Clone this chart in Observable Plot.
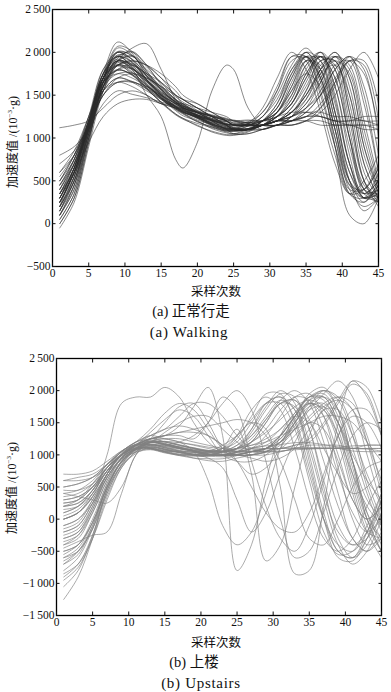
<!DOCTYPE html>
<html><head><meta charset="utf-8">
<script src="https://cdn.jsdelivr.net/npm/d3@7"></script>
<script src="https://cdn.jsdelivr.net/npm/@observablehq/plot@0.6"></script>
<style>
body{margin:0;background:#fff;}
#wrap{position:relative;width:391px;height:692px;overflow:hidden;background:#fff;font-family:"Liberation Serif","Noto Sans CJK SC",serif;color:#111;}
#wrap svg{position:absolute;left:0;}
.cap{position:absolute;white-space:nowrap;transform:translate(-50%,-50%);line-height:1;}
.ylab{position:absolute;white-space:nowrap;transform:translate(-50%,-50%) rotate(-90deg);font-size:12px;line-height:1;}
.ylab sup{font-size:7px;}
</style></head><body><div id="wrap"></div>
<script>
// ---- data ----
const xTicks = [0, 5, 10, 15, 20, 25, 30, 35, 40, 45];
const walkYTicks = [-500, 0, 500, 1000, 1500, 2000, 2500];
const upYTicks = [-1500, -1000, -500, 0, 500, 1000, 1500, 2000, 2500];

// sample positions (采样次数) for walking curves
const walkX = [1,3,5,7,9,11,13,15,17,18,20,22,24,25,27,29,31,33,35,37,39,41,43,45];
const walkCurves = [
 [200,650,1200,1750,1950,1850,1680,1520,1390,1330,1240,1170,1120,1100,1090,1200,1400,1800,1950,1700,1100,500,350,500],
 [350,700,1200,1700,1880,1820,1640,1470,1360,1320,1270,1220,1160,1150,1170,1250,1550,1950,1950,1500,900,400,400,650],
 [100,450,1050,1650,2050,1970,1750,1560,1400,1340,1230,1150,1090,1080,1100,1150,1250,1450,1800,2000,1600,900,400,350],
 [450,750,1200,1650,1800,1730,1580,1420,1280,1230,1170,1120,1070,1050,1080,1150,1200,1300,1500,1800,2000,1600,800,350],
 [0,300,950,1600,1930,2010,1850,1620,1450,1390,1290,1220,1170,1160,1180,1200,1300,1600,1950,1900,1400,700,350,400],
 [250,600,1150,1750,2120,1990,1720,1510,1370,1310,1240,1160,1110,1110,1170,1350,1700,2000,1800,1300,700,350,500,800],
 [550,800,1150,1550,1700,1660,1580,1490,1400,1350,1290,1230,1190,1180,1180,1150,1200,1200,1250,1250,1200,1200,1200,1150],
 [150,550,1150,1750,1900,1790,1580,1410,1270,1220,1150,1070,1030,1030,1070,1150,1200,1350,1650,1950,1850,1200,500,300],
 [800,900,1100,1400,1550,1510,1470,1420,1370,1330,1270,1210,1160,1150,1140,1150,1150,1250,1400,1650,1950,1850,1200,500],
 [1120,1150,1200,1350,1500,1550,1500,1400,1400,1400,1350,1300,1250,1200,1200,1200,1200,1200,1200,1150,1150,1150,1150,1100],
 [300,650,1200,1800,2000,1920,1730,1540,1420,1340,1260,1160,1100,1090,1110,1200,1350,1750,2000,1700,900,100,0,300],
 [200,500,1050,1600,1850,1870,1730,1580,1440,1380,1290,1230,1170,1120,1110,1150,1150,1200,1300,1500,1800,1950,1600,800],
 [400,750,1250,1800,1950,1830,1630,1480,1380,1340,1300,1260,1220,1210,1170,1100,1150,1150,1200,1300,1500,1800,2000,1700],
 [-50,250,900,1550,1900,1960,1830,1640,1480,1420,1320,1210,1140,1100,1100,1200,1300,1550,1750,1600,1000,400,200,300],
 [300,600,1100,1650,1850,1740,1570,1420,1280,1230,1140,1080,1040,1040,1050,1100,1150,1150,1200,1200,1150,1150,1100,1100],
 [250,600,1150,1700,1900,1800,1500,1250,750,650,950,1550,1850,1800,1350,1150,1150,1200,1250,1250,1200,1150,1150,1150],
 [150,500,1100,1700,2000,1960,1780,1590,1440,1380,1270,1170,1110,1100,1140,1250,1500,1850,2050,1800,1200,500,250,450],
 [500,800,1250,1700,1850,1810,1680,1540,1430,1380,1320,1270,1230,1200,1180,1200,1250,1400,1750,1950,1700,1000,450,300],
 [250,600,1150,1700,1950,1880,1680,1480,1330,1280,1190,1130,1080,1080,1100,1150,1200,1300,1450,1750,1950,1700,900,400],
 [50,350,1000,1650,2000,1910,1670,1460,1320,1260,1200,1110,1060,1050,1100,1150,1250,1450,1850,2000,1500,700,300,350],
 [350,700,1200,1750,1920,1810,1660,1510,1370,1320,1260,1210,1160,1120,1110,1150,1200,1250,1350,1550,1850,1900,1400,600],
 [600,850,1250,1650,1790,1740,1610,1470,1370,1330,1270,1210,1160,1160,1190,1300,1600,1950,1900,1400,800,350,400,700],
 [200,550,1100,1700,1970,1920,1720,1560,1410,1360,1250,1160,1110,1100,1110,1150,1250,1500,1900,1950,1450,700,300,400],
 [450,750,1200,1700,1840,1760,1620,1470,1360,1310,1250,1190,1140,1130,1140,1150,1200,1300,1550,1850,1950,1500,700,300],
 [100,450,1100,1700,2070,2010,1780,1570,1420,1360,1260,1200,1150,1110,1100,1150,1250,1400,1700,1950,1800,1100,400,250],
 [300,650,1150,1700,1860,1770,1610,1460,1350,1300,1240,1180,1130,1090,1090,1100,1150,1150,1200,1350,1650,1950,1800,1000],
 [700,850,1150,1500,1650,1660,1570,1460,1370,1320,1260,1210,1190,1160,1160,1200,1300,1550,1900,1800,1300,600,350,500],
 [0,300,950,1650,2000,1880,1680,1490,1340,1290,1190,1130,1080,1080,1100,1200,1400,1750,1950,1650,1000,350,250,500],
 [250,600,1200,1750,1960,1820,1620,1460,1340,1290,1210,1160,1120,1110,1100,1150,1200,1250,1400,1700,1900,1750,1000,400],
 [400,700,1150,1600,1800,1810,1670,1530,1420,1370,1310,1260,1210,1200,1210,1200,1250,1300,1300,1300,1250,1250,1200,1200],
 [150,500,1100,1700,1950,1890,1690,1500,1360,1310,1240,1150,1090,1090,1140,1250,1450,1800,2000,1750,1100,450,300,450],
 [350,650,1150,1650,1790,1740,1590,1450,1340,1300,1230,1180,1130,1120,1100,1150,1150,1250,1450,1800,2000,1700,900,350],
 [500,750,1150,1600,1750,1760,1660,1520,1410,1370,1310,1260,1220,1170,1160,1150,1200,1200,1300,1500,1800,1950,1500,600],
 [200,550,1150,1750,2010,1960,1760,1570,1420,1360,1260,1170,1110,1110,1160,1300,1550,1900,1950,1550,900,350,300,600],
 [300,650,1150,1700,1900,1840,1660,1500,1360,1310,1230,1140,1090,1090,1100,1150,1200,1350,1600,1900,1900,1300,500,250],
 [100,400,1050,1650,1900,1860,1720,1570,1420,1370,1270,1210,1160,1150,1160,1150,1200,1200,1250,1350,1600,1900,1850,1200],
 [350,600,950,1250,1400,1450,1450,1400,1350,1300,1250,1200,1150,1150,1150,1150,1200,1300,1500,1800,1900,1400,600,300],
 [300,600,1100,1600,1900,2050,2100,1800,1450,1350,1250,1150,1100,1100,1100,1150,1250,1400,1750,1950,1700,1000,400,300],
 [250,550,1050,1600,1850,1900,1850,1700,1500,1450,1350,1250,1150,1100,1100,1150,1300,1650,1950,1800,1200,500,300,400],
 [400,700,1150,1650,1900,1950,1800,1650,1500,1400,1300,1250,1200,1150,1150,1200,1300,1500,1850,1950,1600,800,300,300],
 [150,450,1000,1550,1800,1850,1750,1650,1500,1450,1350,1250,1150,1100,1100,1100,1150,1200,1350,1650,1950,1800,1100,450],
 [600,800,1150,1500,1700,1750,1700,1600,1500,1450,1400,1300,1200,1150,1150,1150,1200,1250,1300,1250,1200,1200,1250,1250],
 [50,350,1000,1600,1950,2000,1850,1700,1550,1450,1350,1250,1150,1100,1100,1200,1350,1700,2000,1900,1300,500,150,300],
 [300,650,1150,1650,1750,1700,1600,1500,1400,1350,1300,1250,1200,1150,1150,1150,1200,1250,1350,1500,1700,1900,1750,1100],
 [200,500,1050,1600,1850,1800,1700,1600,1450,1400,1300,1200,1100,1050,1050,1100,1150,1250,1550,1900,1900,1300,500,200],
 [350,650,1100,1550,1700,1650,1550,1450,1350,1350,1300,1250,1200,1150,1150,1200,1350,1700,1950,1700,1100,450,400,650],
 [500,800,1200,1550,1650,1600,1500,1400,1350,1300,1250,1200,1150,1100,1100,1150,1200,1300,1500,1750,1850,1500,700,300],
 [100,400,1000,1550,1850,1900,1850,1750,1600,1500,1400,1300,1200,1150,1150,1200,1250,1400,1700,2000,1800,1000,350,250],
 [450,700,1100,1500,1650,1650,1600,1500,1400,1350,1300,1250,1200,1200,1150,1150,1150,1200,1250,1400,1650,1900,1900,1400],
 [250,600,1150,1700,1900,1850,1750,1600,1450,1400,1300,1200,1100,1100,1100,1150,1300,1600,1900,1850,1300,600,300,350]
];

// sample positions (采样次数) for upstairs curves
const upX = [1,3,5,7,9,11,13,15,17,19,21,23,25,27,29,31,33,35,37,39,41,43,45];
const upCurves = [
 [-400,-250,150,650,930,1080,1130,1090,1060,1040,1010,990,1040,1200,1500,1800,1850,1400,600,-100,-400,-300,100],
 [200,250,450,750,960,1090,1120,1080,1040,1010,990,1000,1010,1050,1050,1050,1100,1100,1100,1100,1100,1100,1100],
 [-1250,-900,-300,450,830,1020,1120,1090,1040,1000,1000,1060,1300,1700,1900,1700,1100,300,-300,-500,-300,200,600],
 [600,650,700,850,1010,1120,1170,1130,1100,1070,1060,1050,1060,1050,1060,1100,1100,1100,1100,1100,1100,1150,1150],
 [-100,0,300,700,1020,1170,1230,1180,1120,1060,1020,990,1040,1100,1300,1600,1900,1950,1600,800,0,-400,-300],
 [-700,-550,-100,500,880,1070,1120,1080,1030,990,980,1050,1250,1600,1950,1950,1500,700,0,-400,-500,-200,300],
 [300,350,500,750,990,1140,1200,1170,1130,1110,1070,1060,1100,1200,1400,1700,1900,1850,1400,700,100,-200,0],
 [-300,-200,200,700,1010,1160,1110,1060,1040,990,980,970,990,1000,1050,1150,1400,1750,2000,1850,1300,500,-100],
 [0,100,350,700,940,1040,1080,1030,990,950,940,940,990,1050,1100,1200,1400,1700,1950,2150,1900,1200,400],
 [-900,-700,-250,400,830,1080,1190,1160,1110,1060,1010,1000,1100,1400,1800,1900,1550,800,0,-500,-600,-300,200],
 [0,100,350,1000,1800,1900,1900,2050,1900,1500,1200,1050,1000,1000,1050,1200,1450,1700,1750,1500,1000,600,300],
 [-500,-400,0,550,900,1100,1250,1500,1750,1800,1500,1100,900,700,800,1100,1500,1800,1700,1200,400,-200,-300],
 [500,550,650,850,1050,1200,1250,1300,1450,1750,2050,1300,-800,-400,600,1300,1600,1500,1100,700,400,500,800],
 [100,200,450,800,1000,1100,1100,1050,1050,1000,1000,1100,1400,700,-650,-400,500,1300,1700,1700,1300,700,200],
 [-200,-100,250,700,1000,1100,1100,1050,1000,1000,1050,1150,1300,1500,1400,500,-850,-800,200,1500,2150,1900,1300],
 [0,100,400,750,1000,1100,1100,1050,1000,1000,950,800,300,-200,100,700,1200,1500,1400,900,300,0,200],
 [-600,-450,-50,500,910,1110,1160,1120,1070,1040,1010,990,1000,1050,1100,1300,1600,1900,1900,1500,700,0,-300],
 [200,300,550,850,1060,1150,1160,1130,1110,1070,1060,1060,1100,1150,1200,1300,1400,1500,1600,1600,1500,1200,900],
 [-800,-600,-150,500,890,1090,1140,1090,1040,1030,1040,1100,1200,1500,1800,1900,1700,1100,300,-400,-700,-500,0],
 [500,550,650,850,1040,1140,1190,1160,1120,1080,1070,1060,1050,1060,1090,1100,1110,1110,1120,1120,1140,1150,1150],
 [-200,-100,250,700,1000,1160,1210,1170,1110,1060,1040,1040,1100,1250,1550,1850,2000,1800,1200,400,-300,-500,-200],
 [-1050,-800,-250,450,890,1100,1220,1170,1120,1070,1020,1010,1050,1100,1200,1400,1650,1900,1950,1600,900,100,-400],
 [300,350,500,800,980,1080,1090,1040,990,980,990,1000,1050,1200,1500,1800,1750,1200,400,-200,-400,-200,300],
 [0,100,350,700,1000,1150,1200,1350,1500,1600,1600,1400,1200,1050,1050,1100,1300,1550,1750,1850,1700,1200,600],
 [-400,-300,100,600,940,1090,1110,1070,1050,1010,1000,990,1040,1090,1100,1100,1150,1200,1450,1800,2100,1950,1300],
 [700,700,750,900,1060,1160,1150,1110,1090,1060,1040,1010,990,1000,1040,1060,1080,1090,1100,1100,1060,1050,1050],
 [-600,-500,-150,400,850,1090,1190,1210,1160,1110,1060,1050,1100,1350,1700,1950,1900,1400,500,-300,-600,-400,100],
 [200,250,450,750,1000,1150,1250,1250,1200,1150,1100,1050,1000,950,900,950,1100,1400,1700,1900,1800,1300,500],
 [-100,0,250,650,950,1100,1150,1150,1200,1300,1500,1800,2000,1700,900,0,-600,-500,100,800,1300,1500,1400],
 [-300,-200,150,650,950,1110,1160,1110,1060,1040,1000,1050,1150,1400,1750,2000,1800,1000,100,-500,-600,-200,400],
 [400,350,300,250,500,1000,1250,1200,1150,1100,1050,1000,1000,1050,1100,1200,1400,1600,1800,1900,1700,1000,200],
 [-450,-350,-250,-200,400,1000,1190,1160,1110,1060,1010,990,1000,1050,1100,1250,1500,1800,1900,1700,1100,400,-200],
 [100,200,450,800,1050,1200,1400,1650,1800,1700,1400,1100,1000,1000,1050,1200,1500,1850,2000,1700,900,100,-300],
 [-700,-500,-100,500,890,1050,1090,1040,1010,1000,1000,1050,1150,1300,1550,1800,1850,1550,900,200,-300,-500,-300],
 [450,450,550,800,1000,1110,1100,1060,1010,950,910,900,950,1000,1100,1300,1600,1900,2000,1900,1400,600,0],
 [-150,-50,300,700,1010,1160,1210,1160,1100,1090,1060,1040,1100,1150,1250,1400,1650,1900,1850,1400,600,-100,-500],
 [250,300,500,800,1050,1200,1300,1250,1200,1050,600,-100,-400,-200,400,1100,1600,1800,1600,1000,300,0,200],
 [-500,-400,-50,500,900,1100,1160,1110,1060,1010,1000,1000,1010,1050,1100,1100,1150,1250,1500,1850,2150,2050,1500],
 [-950,-750,-300,350,800,1050,1200,1250,1250,1200,1150,1100,1050,1050,1100,1250,1550,1850,1900,1500,800,0,-500],
 [350,400,550,800,1000,1150,1350,1550,1700,1600,1300,1000,900,900,1000,1200,1500,1750,1800,1500,900,300,0],
 [-250,-150,200,650,950,1150,1300,1400,1450,1400,1300,1150,1050,1000,1000,1050,1100,1150,1150,1150,1100,1100,1100],
 [50,150,400,750,1000,1150,1250,1300,1300,1250,1500,1900,1700,900,200,-300,-500,-100,600,1300,1600,1500,1100],
 [-650,-500,-150,450,850,1100,1200,1200,1150,1100,1050,1050,1100,1300,1600,1850,1700,900,0,-600,-650,-300,300],
 [600,600,650,800,1000,1150,1250,1300,1350,1400,1450,1500,1550,1500,1300,900,300,-300,-400,0,500,800,900],
 [-350,-250,100,600,950,1150,1250,1200,1150,1100,1050,1050,1100,1200,1350,1550,1750,1850,1750,1300,500,-200,-600],
 [150,200,400,750,990,1130,1190,1210,1190,1160,1120,1100,1090,1110,1140,1160,1190,1190,1160,1120,1100,1090,1060],
 [-850,-700,-300,300,800,1050,1150,1150,1100,1050,1000,1000,1050,1100,1150,1300,1600,1950,2050,1700,900,0,-500],
 [250,300,500,800,1000,1150,1250,1300,1350,1350,1300,1150,900,500,100,-150,-200,100,700,1300,1700,1700,1300],
 [-550,-400,-50,550,950,1150,1200,1150,1100,1050,1050,1100,1300,1550,1800,1800,1400,600,-200,-550,-500,-100,400],
 [400,450,600,850,1050,1200,1300,1400,1600,1800,1800,1600,1300,1100,1100,1300,1600,1800,1700,1300,700,200,-100]
];

// ---- drawing ----
const FONT = '"Liberation Serif","Noto Sans CJK SC",serif';
const fmt = d => {
  const a = Math.abs(d);
  const s = a >= 1000 ? Math.floor(a / 1000) + "\u2009" + String(a % 1000).padStart(3, "0") : String(a);
  return (d < 0 ? "\u2212" : "") + s;
};

function panel(xs, curves, yTicks, o) {
  const rows = curves.flatMap((c, i) => c.map((v, j) => ({x: xs[j], y: v, s: i})));
  const blank = () => "";
  return Plot.plot({
    width: 391, height: o.height,
    marginTop: o.mt, marginBottom: o.mb, marginLeft: o.ml, marginRight: o.mr,
    x: {domain: [0, 45]},
    y: {domain: [yTicks[0], yTicks[yTicks.length - 1]]},
    style: {fontFamily: FONT, fontSize: "11.5px", color: "#111", background: "transparent", overflow: "visible"},
    marks: [
      Plot.line(rows, {x: "x", y: "y", z: "s", stroke: o.color, strokeWidth: o.sw, strokeOpacity: o.op, curve: "catmull-rom", clip: true}),
      Plot.frame({stroke: "#000", strokeWidth: 1.3}),
      Plot.axisX({ticks: xTicks, tickSize: 0, tickPadding: 2, tickFormat: d => String(d), label: null}),
      Plot.axisX({ticks: xTicks, tickSize: -3.5, tickFormat: blank, label: null}),
      Plot.axisX({anchor: "top", ticks: xTicks, tickSize: -3.5, tickFormat: blank, label: null}),
      Plot.axisY({ticks: yTicks, tickSize: 0, tickPadding: 2, tickFormat: fmt, label: null}),
      Plot.axisY({ticks: yTicks, tickSize: -3.5, tickFormat: blank, label: null}),
      Plot.axisY({anchor: "right", ticks: yTicks, tickSize: -3.5, tickFormat: blank, label: null})
    ]
  });
}

const wrap = document.getElementById("wrap");
const top1 = panel(walkX, walkCurves, walkYTicks, {height: 285, mt: 9, mb: 19, ml: 52, mr: 13, color: "#2a2a2a", sw: 0.65, op: 0.85});
top1.style.top = "0px";
wrap.appendChild(top1);
const bot = panel(upX, upCurves, upYTicks, {height: 300, mt: 18, mb: 25, ml: 56, mr: 10, color: "#808080", sw: 0.7, op: 0.95});
bot.style.top = "340px";
wrap.appendChild(bot);

function addText(html, cls, x, y, size, ls) {
  const d = document.createElement("div");
  d.className = cls;
  d.innerHTML = html;
  d.style.left = x + "px";
  d.style.top = y + "px";
  if (size) d.style.fontSize = size + "px";
  if (ls) d.style.letterSpacing = ls + "px";
  wrap.appendChild(d);
}
const yLabel = "加速度值 /(10<sup>−3</sup>·g)";
addText(yLabel, "ylab", 13, 142);
addText(yLabel, "ylab", 12, 488);
addText("采样次数", "cap", 216, 292, 12.5);
addText("(a) 正常行走", "cap", 191, 311, 14.5);
addText("(a) Walking", "cap", 189, 332, 15, 0.7);
addText("采样次数", "cap", 216, 643, 12.5);
addText("(b) 上楼", "cap", 194, 662, 14.5);
addText("(b) Upstairs", "cap", 201, 683, 15, 0.7);
</script>
</body></html>
